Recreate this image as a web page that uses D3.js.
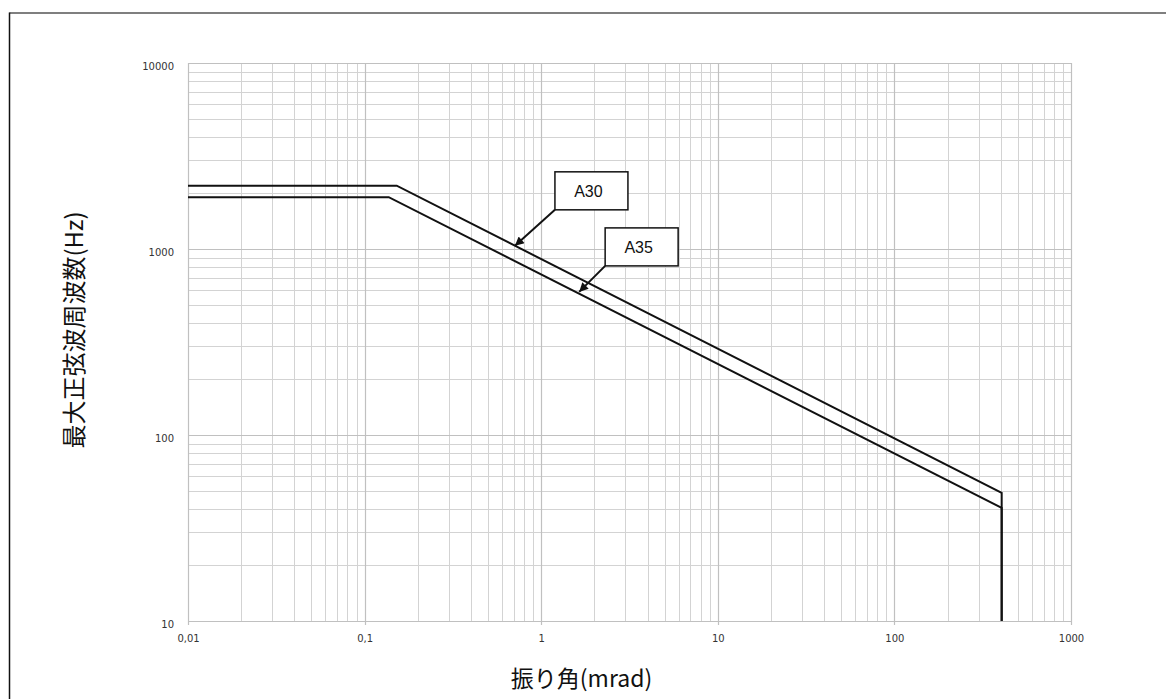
<!DOCTYPE html>
<html><head><meta charset="utf-8">
<script src="https://cdn.jsdelivr.net/npm/d3@7"></script>
<style>
html,body{margin:0;padding:0;background:#fff;}
svg{display:block;}
</style></head>
<body>
<script>
// ---- data ----
const xTicks = [0.01, 0.1, 1, 10, 100, 1000];
const xTickLabels = ["0,01", "0,1", "1", "10", "100", "1000"];
const yTicks = [10, 100, 1000, 10000];
const yTickLabels = ["10", "100", "1000", "10000"];
const seriesNames = ["A30", "A35"];
const a30X = [0.01, 0.152, 405, 405];
const a30Y = [2190, 2190, 48.8, 10];
const a35X = [0.01, 0.137, 405, 405];
const a35Y = [1900, 1900, 40.6, 10];
const annLabels = ["A30", "A35"];
const annTipX = [0.71, 1.64];
const annTipY = [1040, 588];
const xTitle = "振り角(mrad)";
const yTitle = "最大正弦波周波数(Hz)";

// ---- layout ----
const W = 1166, H = 699;
const L = 188, R = 1071, T = 63, B = 621;

const svg = d3.select("body").append("svg").attr("width", W).attr("height", H);

// outer frame (top and left edges visible)
svg.append("line").attr("x1", 9.5).attr("x2", W).attr("y1", 13).attr("y2", 13)
  .attr("stroke", "#555").attr("stroke-width", 1.5);
svg.append("line").attr("x1", 9.5).attr("x2", 9.5).attr("y1", 12.5).attr("y2", H)
  .attr("stroke", "#111").attr("stroke-width", 1.5);

const x = d3.scaleLog().domain([0.01, 1000]).range([L, R]);
const y = d3.scaleLog().domain([10, 10000]).range([B, T]);

// grid
const minorX = [], minorY = [];
for (let e = -2; e < 3; e++) for (let m = 2; m <= 9; m++) minorX.push(m * Math.pow(10, e));
for (let e = 1; e < 4; e++) for (let m = 2; m <= 9; m++) minorY.push(m * Math.pow(10, e));

const g = svg.append("g");
g.selectAll(".mx").data(minorX).enter().append("line")
  .attr("x1", d => Math.round(x(d)) + 0.5).attr("x2", d => Math.round(x(d)) + 0.5)
  .attr("y1", T).attr("y2", B).attr("stroke", "#d3d3d3").attr("stroke-width", 1);
g.selectAll(".my").data(minorY).enter().append("line")
  .attr("y1", d => Math.round(y(d)) + 0.5).attr("y2", d => Math.round(y(d)) + 0.5)
  .attr("x1", L).attr("x2", R).attr("stroke", "#d3d3d3").attr("stroke-width", 1);
g.selectAll(".Mx").data(xTicks).enter().append("line")
  .attr("x1", d => Math.round(x(d)) + 0.5).attr("x2", d => Math.round(x(d)) + 0.5)
  .attr("y1", T).attr("y2", B + 4).attr("stroke", "#c0c0c0").attr("stroke-width", 1.2);
g.selectAll(".My").data(yTicks).enter().append("line")
  .attr("y1", d => Math.round(y(d)) + 0.5).attr("y2", d => Math.round(y(d)) + 0.5)
  .attr("x1", L).attr("x2", R).attr("stroke", "#c0c0c0").attr("stroke-width", 1.2);

// axes labels via d3 axes
const xAxis = d3.axisBottom(x).tickValues(xTicks).tickFormat((d, i) => xTickLabels[i]).tickSize(0).tickPadding(14);
const yAxis = d3.axisLeft(y).tickValues(yTicks).tickFormat((d, i) => yTickLabels[i]).tickSize(0).tickPadding(14);
const gx = svg.append("g").attr("transform", `translate(0,${B})`).call(xAxis);
const gy = svg.append("g").attr("transform", `translate(${L},0)`).call(yAxis);
[gx, gy].forEach(a => {
  a.select(".domain").remove();
  a.selectAll("text").attr("font-family", "'DejaVu Sans', sans-serif").attr("font-size", 10).attr("fill", "#333");
});
gx.selectAll("text").attr("dy", "0.71em");
gy.selectAll("text").attr("dy", "0.6em");

// series
const line = d3.line().x(d => x(d[0])).y(d => y(d[1]));
const series = [d3.zip(a30X, a30Y), d3.zip(a35X, a35Y)];
svg.selectAll(".s").data(series).enter().append("path")
  .attr("d", line).attr("fill", "none").attr("stroke", "#111").attr("stroke-width", 2)
  .attr("stroke-linejoin", "miter");

// arrow marker
svg.append("defs").append("marker").attr("id", "ah")
  .attr("viewBox", "0 0 10 10").attr("refX", 10).attr("refY", 5)
  .attr("markerWidth", 11).attr("markerHeight", 9).attr("markerUnits", "userSpaceOnUse")
  .attr("orient", "auto")
  .append("path").attr("d", "M0,0L10,5L0,10Z").attr("fill", "#111");

// annotations
const boxOff = [[40, -36], [26, -26]];
const boxW = 73, boxH = 38;
annLabels.forEach((lab, i) => {
  const tx = x(annTipX[i]), ty = y(annTipY[i]);
  const bx = tx + boxOff[i][0], by = ty + boxOff[i][1];
  svg.append("line").attr("x1", bx).attr("y1", by).attr("x2", tx).attr("y2", ty)
    .attr("stroke", "#111").attr("stroke-width", 2).attr("marker-end", "url(#ah)");
  svg.append("rect").attr("x", bx).attr("y", by - boxH).attr("width", boxW).attr("height", boxH)
    .attr("fill", "#fff").attr("stroke", "#111").attr("stroke-width", 1.5);
  svg.append("text").attr("x", bx + boxW / 2 - 3).attr("y", by - boxH / 2)
    .attr("dy", "0.36em").attr("text-anchor", "middle")
    .attr("font-family", "'Liberation Sans', Arial, sans-serif").attr("font-size", 16).attr("fill", "#111")
    .text(lab);
});

// titles
svg.append("text").attr("x", (L + R) / 2 - 48).attr("y", 679).attr("dy", "0.35em")
  .attr("text-anchor", "middle").attr("font-family", "'Noto Sans CJK JP', sans-serif")
  .attr("font-size", 23).attr("fill", "#111").text(xTitle);
svg.append("text").attr("transform", `translate(75,${(T + B) / 2 - 12}) rotate(-90)`).attr("dy", "0.35em")
  .attr("text-anchor", "middle").attr("font-family", "'Noto Sans CJK JP', sans-serif")
  .attr("font-size", 24).attr("fill", "#111").text(yTitle);
</script>
</body></html>
